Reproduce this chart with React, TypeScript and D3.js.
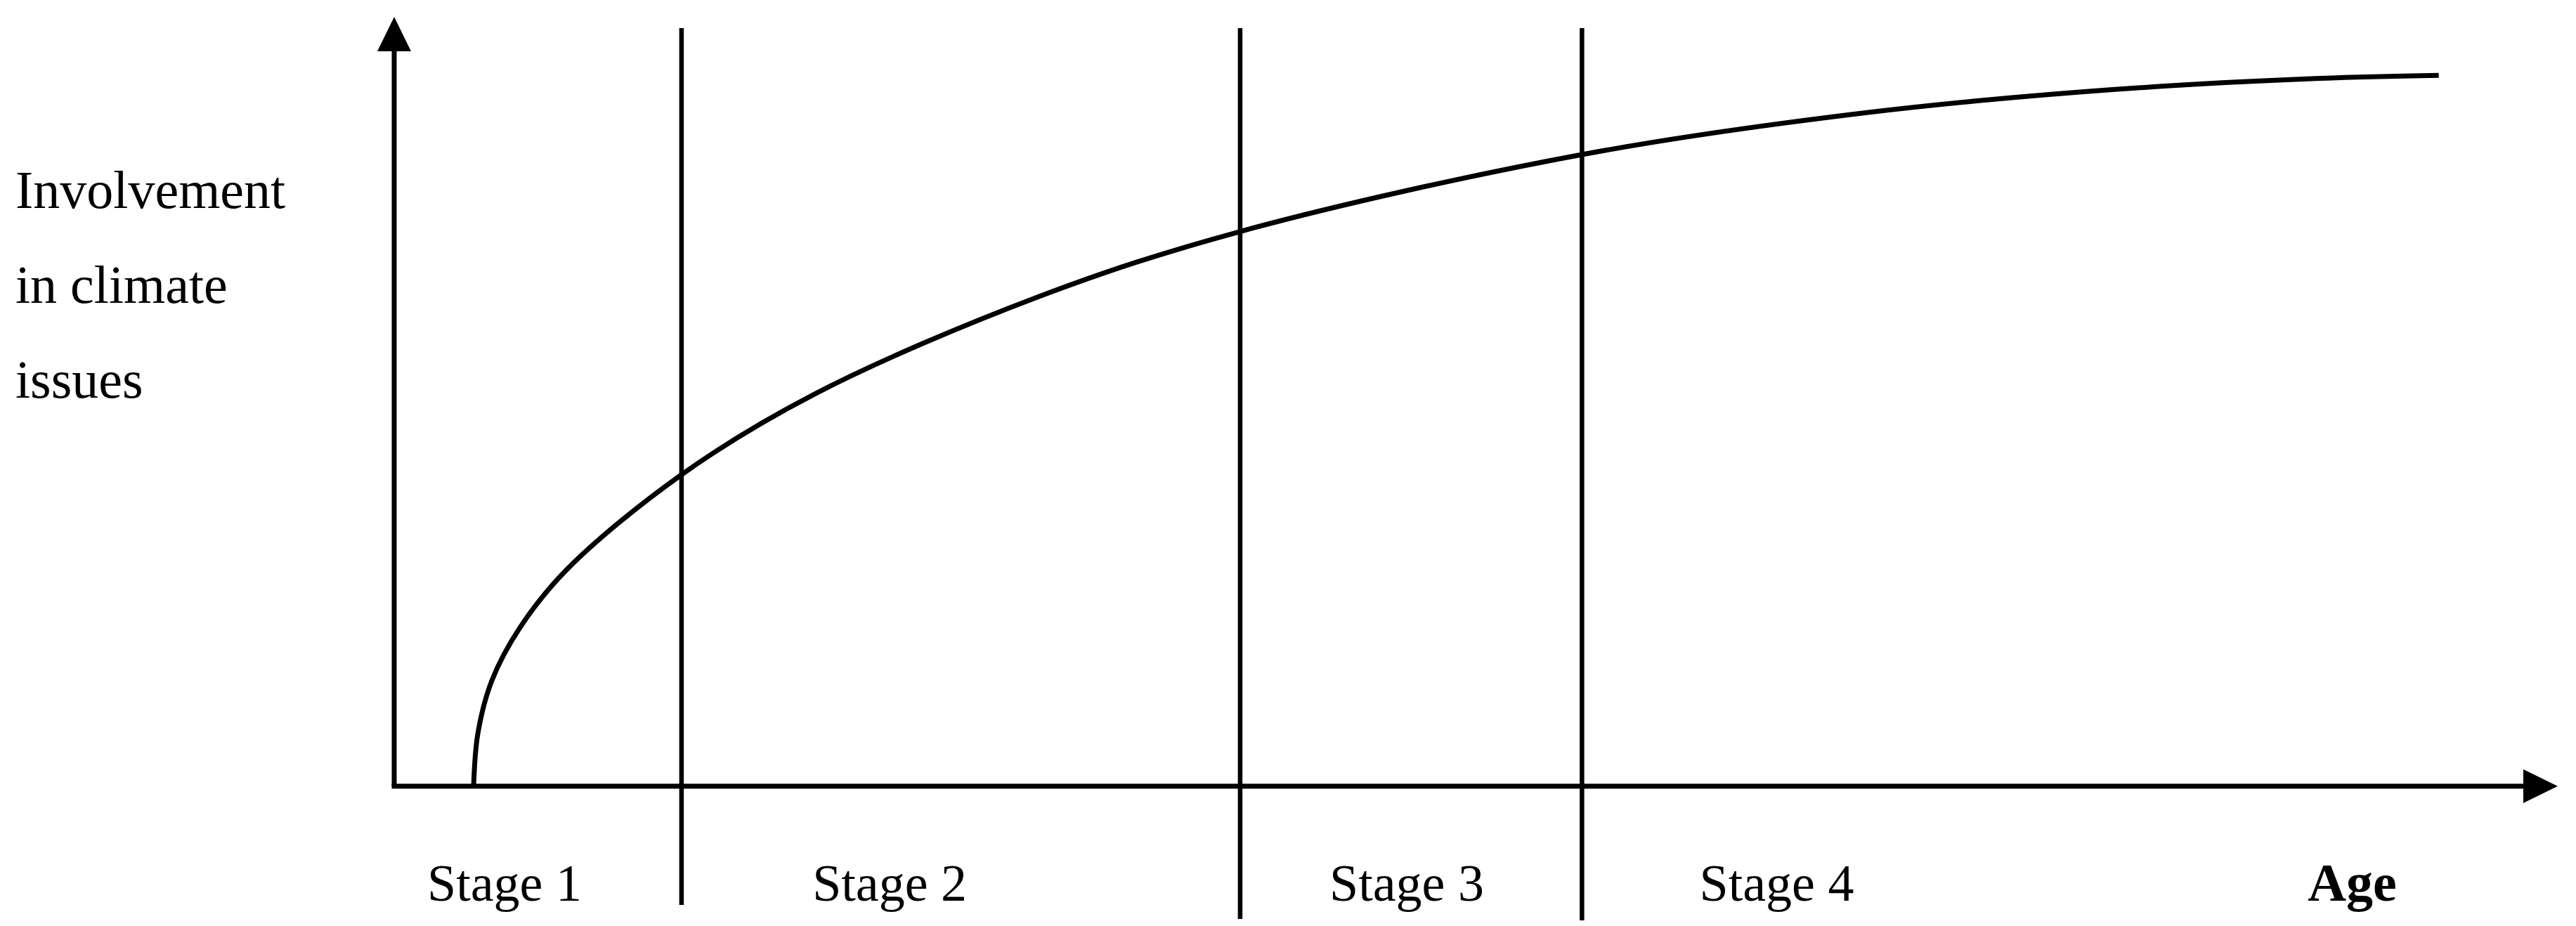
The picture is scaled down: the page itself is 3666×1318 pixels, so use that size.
import * as d3 from "d3";

// curve (age and involvement in arbitrary 0-100 units)
const curveAge = [3.67, 3.87, 4.51, 5.81, 7.99, 13.28, 19.45, 29.85, 39.1, 54.9, 68.2, 79.2, 89.0, 94.5];
const curveInvolvement = [0, 6.9, 13.7, 20.6, 28.2, 40.5, 51.0, 63.7, 72.1, 82.1, 87.6, 90.5, 92.0, 92.4];

// stage boundaries on the age axis
const stageBounds = [13.28, 39.1, 54.9];
const stageLabels = ["Stage 1", "Stage 2", "Stage 3", "Stage 4"];
const stageLabelAge = [5.1, 22.9, 46.8, 63.9];
const xTitle = "Age";
const xTitleAge = 90.5;
const yTitleLines = ["Involvement", "in climate", "issues"];

const W = 3666,
  H = 1318;
const FONT = "'Liberation Serif', 'Times New Roman', serif";

export default function App() {
  const x = d3.scaleLinear().domain([0, 100]).range([561, 3640]);
  const y = d3.scaleLinear().domain([0, 100]).range([1119, 24]);

  const pts = curveAge.map((a, i) => [a, curveInvolvement[i]] as [number, number]);
  const line = d3
    .line<[number, number]>()
    .x((d) => x(d[0]))
    .y((d) => y(d[1]))
    .curve(d3.curveCatmullRom.alpha(0.5));

  const x0 = x(0),
    y0 = y(0);
  const xEnd = x(100),
    yEnd = y(100);
  const ah = 49,
    aw = 24;
  const dividerTop = 40;
  const dividerBottoms = [1288, 1308, 1310];
  const labelY = 1282;

  return (
    <svg
      width={W}
      height={H}
      style={{ position: "absolute", left: 0, top: 0, background: "#fff" }}
      fontFamily={FONT}
    >
      {/* axes */}
      <line x1={x0} y1={y0} x2={x0} y2={yEnd + ah} stroke="#000" strokeWidth={7} />
      <path d={`M${x0},${yEnd} L${x0 - aw},${yEnd + ah} L${x0 + aw},${yEnd + ah} Z`} fill="#000" />
      <line x1={x0 - 3.5} y1={y0} x2={xEnd - ah} y2={y0} stroke="#000" strokeWidth={7} />
      <path d={`M${xEnd},${y0} L${xEnd - ah},${y0 - aw} L${xEnd - ah},${y0 + aw} Z`} fill="#000" />

      {/* stage dividers */}
      {stageBounds.map((b, i) => (
        <line key={b} x1={x(b)} x2={x(b)} y1={dividerTop} y2={dividerBottoms[i]} stroke="#000" strokeWidth={6.5} />
      ))}

      {/* involvement curve */}
      <path d={line(pts) || ""} fill="none" stroke="#000" strokeWidth={7} strokeLinejoin="round" />

      {/* labels */}
      {yTitleLines.map((t, i) => (
        <text key={t} x={22} y={296 + i * 135} fontSize={76}>
          {t}
        </text>
      ))}
      {stageLabels.map((s, i) => (
        <text key={s} x={x(stageLabelAge[i])} y={labelY} fontSize={74} textAnchor="middle">
          {s}
        </text>
      ))}
      <text x={x(xTitleAge)} y={labelY} fontSize={76} fontWeight="bold" textAnchor="middle">
        {xTitle}
      </text>
    </svg>
  );
}
